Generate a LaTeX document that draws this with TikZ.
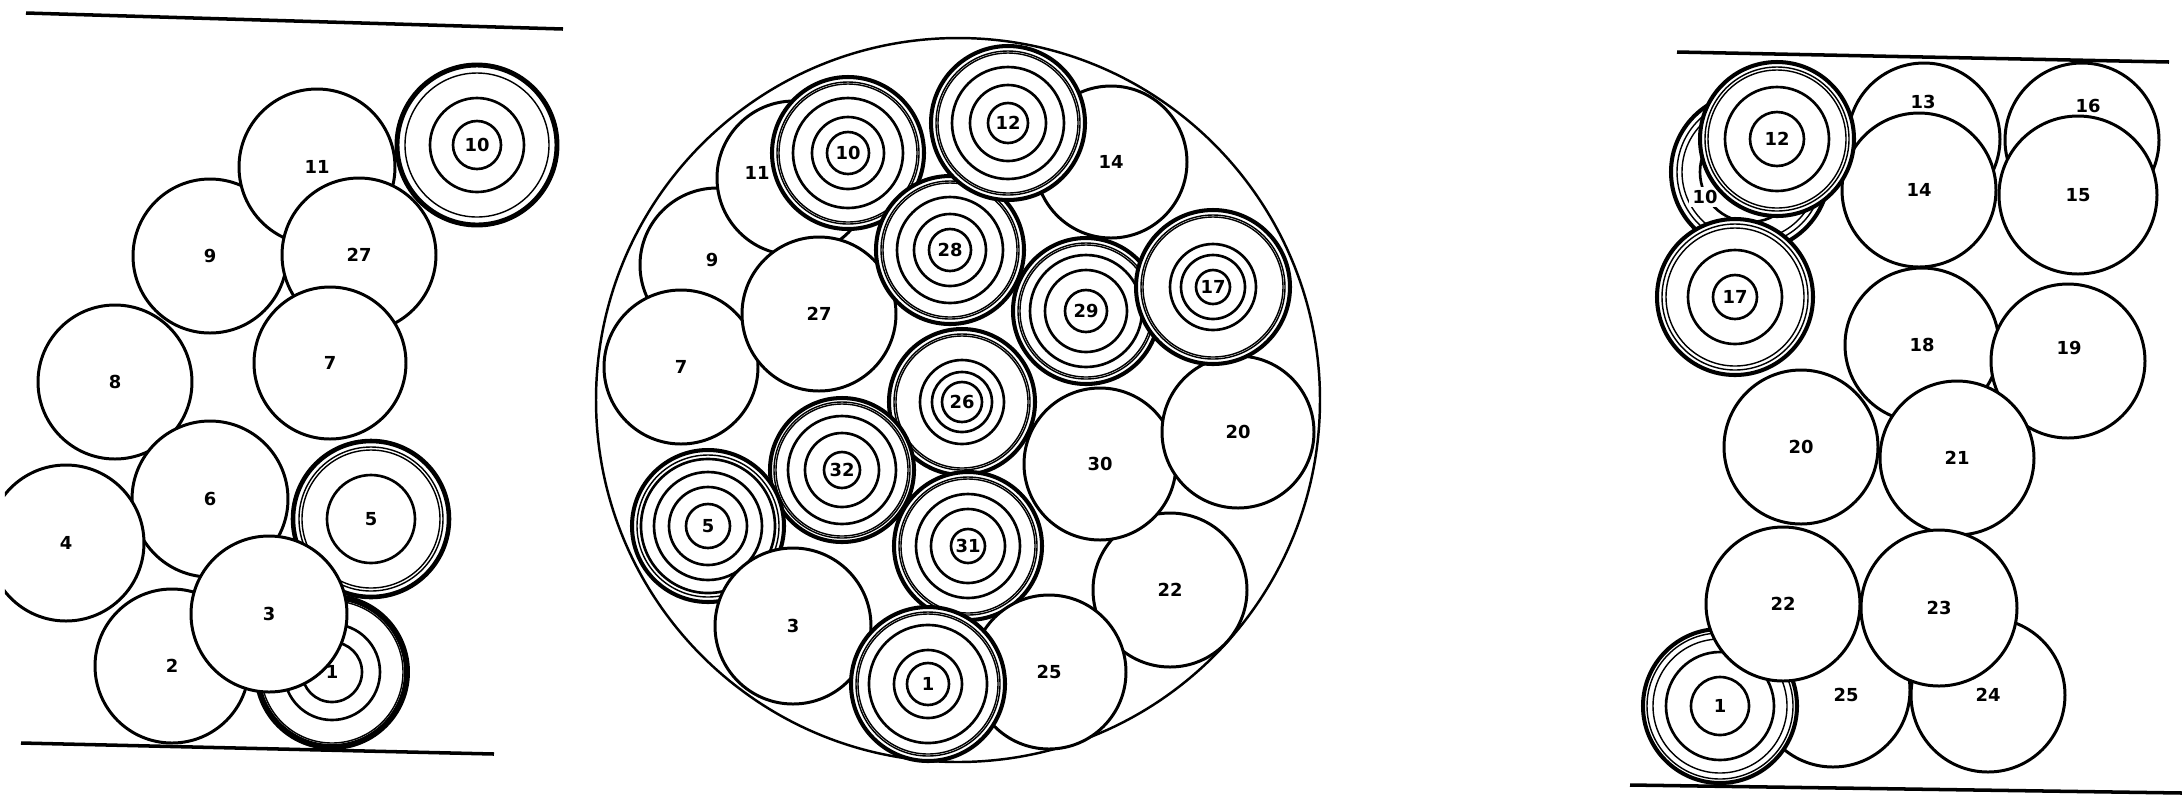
\documentclass[tikz,border=0pt]{standalone}
\usepackage{fontspec}
\newfontfamily\numfont{DejaVu Sans}
\tikzset{
  num/.style={font=\numfont\bfseries\fontsize{5.1}{6}\selectfont,inner sep=0.5pt},
  disc/.style={circle,draw,fill=white,line width=0.85pt,inner sep=0pt,minimum size=#1*0.2mm,num},
  bore/.style={circle,draw,line width=0.7pt,inner sep=0pt,minimum size=#1*0.2mm},
  thinring/.style={line width=0.4pt},
  ring/.style={line width=0.75pt},
  shelf/.style={line width=1pt}
}
% name, centre, outer radius, label, thin rings, rings
\newcommand{\target}[7][1.15pt]{%
  \node[disc=#4,line width=#1] (#2) at (#3) {#5};
  \foreach \r in {#6} \draw[thinring] (#2.center) circle[radius=\r];
  \foreach \r in {#7} \draw[ring] (#2.center) circle[radius=\r];
}

\begin{document}
\begin{tikzpicture}[x=0.1mm,y=-0.1mm]
  \useasboundingbox (0,0) rectangle (2182,795);
  \begin{scope}
  \clip (5,0) rectangle (2182,795);

  % left: loose pile between two boards
  \draw[shelf] (26,13) -- (563,29);
  \draw[shelf] (21,743) -- (494,754);
  \node[disc=77] (L8) at (115,382) {8};
  \node[disc=77] (L9) at (210,256) {9};
  \node[disc=78] (L11) at (317,167) {11};
  \node[disc=77] (L27) at (359,255) {27};
  \node[disc=76] (L7) at (330,363) {7};
  \target[1.4pt]{L10}{477,145}{80}{10}{72}{47,24}
  \node[disc=78] (L6) at (210,499) {6};
  \node[disc=78] (L4) at (66,543) {4};
  \target[1.3pt]{L5}{371,519}{78}{5}{72,69}{44}
  \node[disc=77] (L2) at (172,666) {2};
  \target[1.7pt]{L1}{332,672}{75}{1}{71}{48,30}
  \node[disc=78] (L3) at (269,614) {3};

  % centre: the same reels inside the drum
  \node[bore=362] (drum) at (958,400) {};
  \node[disc=77] (C9) at (717,265) {};
  \node[num] (C9n) at (712,260) {9};
  \node[disc=77] (C11) at (794,178) {};
  \node[num] (C11n) at (757,173) {11};
  \node[disc=77] (C7) at (681,367) {7};
  \node[disc=77] (C27) at (819,314) {27};
  \node[disc=76] (C14) at (1111,162) {14};
  \node[disc=77] (C22) at (1170,590) {22};
  \node[disc=76] (C30) at (1100,464) {30};
  \node[disc=76] (C20) at (1238,432) {20};
  \target{C10}{848,153}{76}{10}{71,69}{55,36,21}
  \target{C28}{950,250}{74}{28}{69,67}{53,36,21}
  \target{C12}{1008,123}{77}{12}{72,70}{56,38,20}
  \target{C26}{962,402}{73}{26}{68,66}{42,30,20}
  \target{C29}{1086,311}{73}{29}{68,66}{56,41,21}
  \target{C17}{1213,287}{77}{17}{72,70}{43,32,17}
  \target{C32}{842,470}{72}{32}{68,66}{54,37,18}
  \target{C5}{708,526}{76}{5}{71}{67,54,39,22}
  \node[disc=78] (C3) at (793,626) {3};
  \target{C31}{968,546}{74}{31}{69,67}{52,37,17}
  \node[disc=77] (C25) at (1049,672) {25};
  \target{C1}{928,684}{77}{1}{72,70}{59,34,21}

  % right: packed layer between two boards
  \draw[shelf] (1677,52) -- (2169,62);
  \draw[shelf] (1630,785) -- (2182,793);
  \node[disc=76] (R13) at (1924,139) {};
  \node[num] (R13n) at (1923,102) {13};
  \node[disc=77] (R16) at (2082,140) {};
  \node[num] (R16n) at (2088,106) {16};
  \node[disc=77] (R14) at (1919,190) {14};
  \node[disc=79] (R15) at (2078,195) {15};
  \target{R10}{1750,172}{79}{}{73,68}{50}
  \node[num,fill=white,inner sep=1pt] (R10n) at (1705,197) {10};
  \target{R12}{1777,139}{77}{12}{72,69}{52,27}
  \target{R17}{1735,297}{78}{17}{73,69}{47,22}
  \node[disc=77] (R18) at (1922,345) {18};
  \node[disc=77] (R19) at (2068,361) {};
  \node[num] (R19n) at (2069,348) {19};
  \node[disc=77] (R20) at (1801,447) {20};
  \node[disc=77] (R21) at (1957,458) {21};
  \node[disc=77] (R25) at (1833,690) {};
  \node[num] (R25n) at (1846,695) {25};
  \target{R1}{1720,706}{77}{1}{73,67}{54,29}
  \node[disc=77] (R24) at (1988,695) {24};
  \node[disc=77] (R22) at (1783,604) {22};
  \node[disc=78] (R23) at (1939,608) {23};
  \end{scope}
\end{tikzpicture}
\end{document}
